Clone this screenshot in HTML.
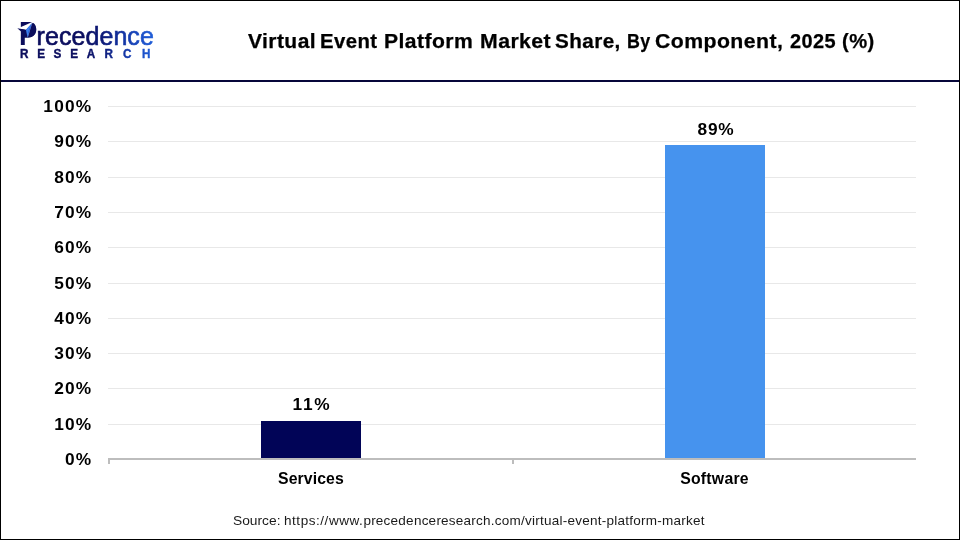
<!DOCTYPE html>
<html>
<head>
<meta charset="utf-8">
<title>Virtual Event Platform Market Share, By Component, 2025 (%)</title>
<style>
html,body{margin:0;padding:0;background:#fff;}
body{width:960px;height:540px;overflow:hidden;position:relative;font-family:"Liberation Sans",sans-serif;}
#frame{position:absolute;left:0;top:0;width:958px;height:538px;border:1px solid #000;background:#fff;}
.abs{position:absolute;white-space:nowrap;}
#hr{left:1px;top:80px;width:958px;height:2px;background:#07073a;}
#title{left:0;top:29px;width:960px;height:24px;font-size:19.6px;font-weight:bold;color:#000;line-height:24px;letter-spacing:0.4px;-webkit-text-stroke:0.25px #000;}
#title span{position:absolute;top:0;display:block;white-space:nowrap;transform-origin:0 0;}
.grid{left:108px;width:808px;height:1px;background:#e8e8e8;}
.ylab{right:867.7px;font-size:16px;font-weight:bold;color:#000;line-height:18px;text-align:right;letter-spacing:1.1px;transform:scaleX(1.08);transform-origin:100% 0;margin-top:1px;}
#axis{left:108px;top:458px;width:808px;height:2px;background:#bdbdbd;}
.tick{top:458px;width:2px;height:6px;background:#bdbdbd;}
.bar{}
.dlab{font-size:16px;font-weight:bold;color:#000;line-height:18px;text-align:center;width:100px;transform:scaleX(1.08);transform-origin:50% 0;}
.clab{font-size:15.8px;font-weight:bold;color:#000;line-height:18px;text-align:center;width:140px;}
#src{left:233px;top:513px;font-size:13px;color:#1a1a1a;line-height:16px;}
#s1{display:inline-block;transform:scaleX(1.06);transform-origin:0 0;}
#s2{display:inline-block;margin-left:6.6px;letter-spacing:0.225px;transform:scaleX(1.04);transform-origin:0 0;}
</style>
</head>
<body>
<div id="frame"></div>
<svg class="abs" id="logo" style="left:0;top:0" width="240" height="80" viewBox="0 0 240 80" role="img" aria-label="Precedence Research">
  <title>Precedence Research</title>
  <defs>
    <linearGradient id="lg" gradientUnits="userSpaceOnUse" x1="17" y1="0" x2="154" y2="0">
      <stop offset="0" stop-color="#0b0d5c"/>
      <stop offset="0.48" stop-color="#0b0e5f"/>
      <stop offset="0.62" stop-color="#0d1a78"/>
      <stop offset="0.76" stop-color="#12319f"/>
      <stop offset="0.9" stop-color="#1a4cc4"/>
      <stop offset="1" stop-color="#2160da"/>
    </linearGradient>
    <linearGradient id="lg2" gradientUnits="userSpaceOnUse" x1="18.9" y1="0" x2="171" y2="0">
      <stop offset="0" stop-color="#0b0d5c"/>
      <stop offset="0.48" stop-color="#0b0e5f"/>
      <stop offset="0.62" stop-color="#0d1a78"/>
      <stop offset="0.76" stop-color="#12319f"/>
      <stop offset="0.9" stop-color="#1a4cc4"/>
      <stop offset="1" stop-color="#2160da"/>
    </linearGradient>
  </defs>
  <text transform="translate(19.1 44.9) scale(0.85 1)" font-family="Liberation Sans, sans-serif" font-weight="bold" font-size="32.3" fill="#0b0d5c">P</text>
  <path d="M24 22.6 L31.5 22.6 C34.2 23.6 36 26.4 36 29.6 C36 34.2 32.8 37.7 28.3 37.7 L24 37.7 Z" fill="#0b0d5c"/>
  <polygon points="33.4,21.4 33.4,22.6 32.2,23.2 25.9,29.9 17.3,28.3 21.0,26.9" fill="#ffffff"/>
  <polygon points="17.3,28.2 26,29.8 24,31.8 21.1,31.6" fill="#0b0d5c"/>
  <polygon points="31.9,23.1 25.9,29.8 27.5,37.3" fill="#3a7ff0"/>
  <polygon points="31.9,23.1 28.9,30 27.5,37.3" fill="#1c4ccc"/>
  <polygon points="32.3,22.8 31.9,23.1 27.5,37.3 27.8,37.5" fill="#8fb0ee"/>
  <text x="36.6" y="44.5" font-family="Liberation Sans, sans-serif" font-size="25" fill="url(#lg)" stroke="url(#lg)" stroke-width="0.6" textLength="117.2" lengthAdjust="spacing">recedence</text>
  <text transform="scale(0.9 1)" y="57.8" x="26.85 45.6 63.8 82.3 101.2 120.8 141.4 162.5" text-anchor="middle" font-family="Liberation Sans, sans-serif" font-weight="bold" font-size="13" fill="url(#lg2)" stroke="url(#lg2)" stroke-width="0.4">RESEARCH</text>
</svg>
<div class="abs" id="title"><span style="left:247.7px;transform:scaleX(1.0726)">Virtual</span> <span style="left:320.46px;transform:scaleX(1.037)">Event</span> <span style="left:383.92px;transform:scaleX(1.0781)">Platform</span> <span style="left:479.52px;transform:scaleX(1.0844)">Market</span> <span style="left:555.0px;transform:scaleX(1.0557)">Share,</span> <span style="left:627.19px;transform:scaleX(0.9125)">By</span> <span style="left:655.17px;transform:scaleX(1.0841)">Component,</span> <span style="left:790.0px;transform:scaleX(1.0178)">2025</span> <span style="left:842.27px;transform:scaleX(1.03)">(%)</span></div>
<div class="abs" id="hr"></div>

<div class="abs grid" style="top:106px"></div>
<div class="abs grid" style="top:141px"></div>
<div class="abs grid" style="top:177px"></div>
<div class="abs grid" style="top:212px"></div>
<div class="abs grid" style="top:247px"></div>
<div class="abs grid" style="top:283px"></div>
<div class="abs grid" style="top:318px"></div>
<div class="abs grid" style="top:353px"></div>
<div class="abs grid" style="top:388px"></div>
<div class="abs grid" style="top:424px"></div>

<div class="abs ylab" style="top:97px">100%</div>
<div class="abs ylab" style="top:132px">90%</div>
<div class="abs ylab" style="top:168px">80%</div>
<div class="abs ylab" style="top:203px">70%</div>
<div class="abs ylab" style="top:238px">60%</div>
<div class="abs ylab" style="top:274px">50%</div>
<div class="abs ylab" style="top:309px">40%</div>
<div class="abs ylab" style="top:344px">30%</div>
<div class="abs ylab" style="top:379px">20%</div>
<div class="abs ylab" style="top:415px">10%</div>
<div class="abs ylab" style="top:450px">0%</div>

<div class="abs bar" style="left:261px;top:421px;width:100px;height:37px;background:#010457;"></div>
<div class="abs bar" style="left:665px;top:145px;width:100px;height:313px;background:#4693ee;"></div>

<div class="abs" id="axis"></div>
<div class="abs tick" style="left:108px"></div>
<div class="abs tick" style="left:512px"></div>

<div class="abs dlab" style="left:262px;top:396px;letter-spacing:1.6px">11%</div>
<div class="abs dlab" style="left:665.5px;top:121px;letter-spacing:0.8px">89%</div>
<div class="abs clab" style="left:241px;top:469.5px;letter-spacing:0.1px">Services</div>
<div class="abs clab" style="left:644.5px;top:469.5px;letter-spacing:0.25px">Software</div>

<div class="abs" id="src"><span id="s1">Source:</span><span id="s2"><span style="letter-spacing:0.52px">https://www.</span>precedenceresearch.com/virtual-event-platform-market</span></div>
</body>
</html>
